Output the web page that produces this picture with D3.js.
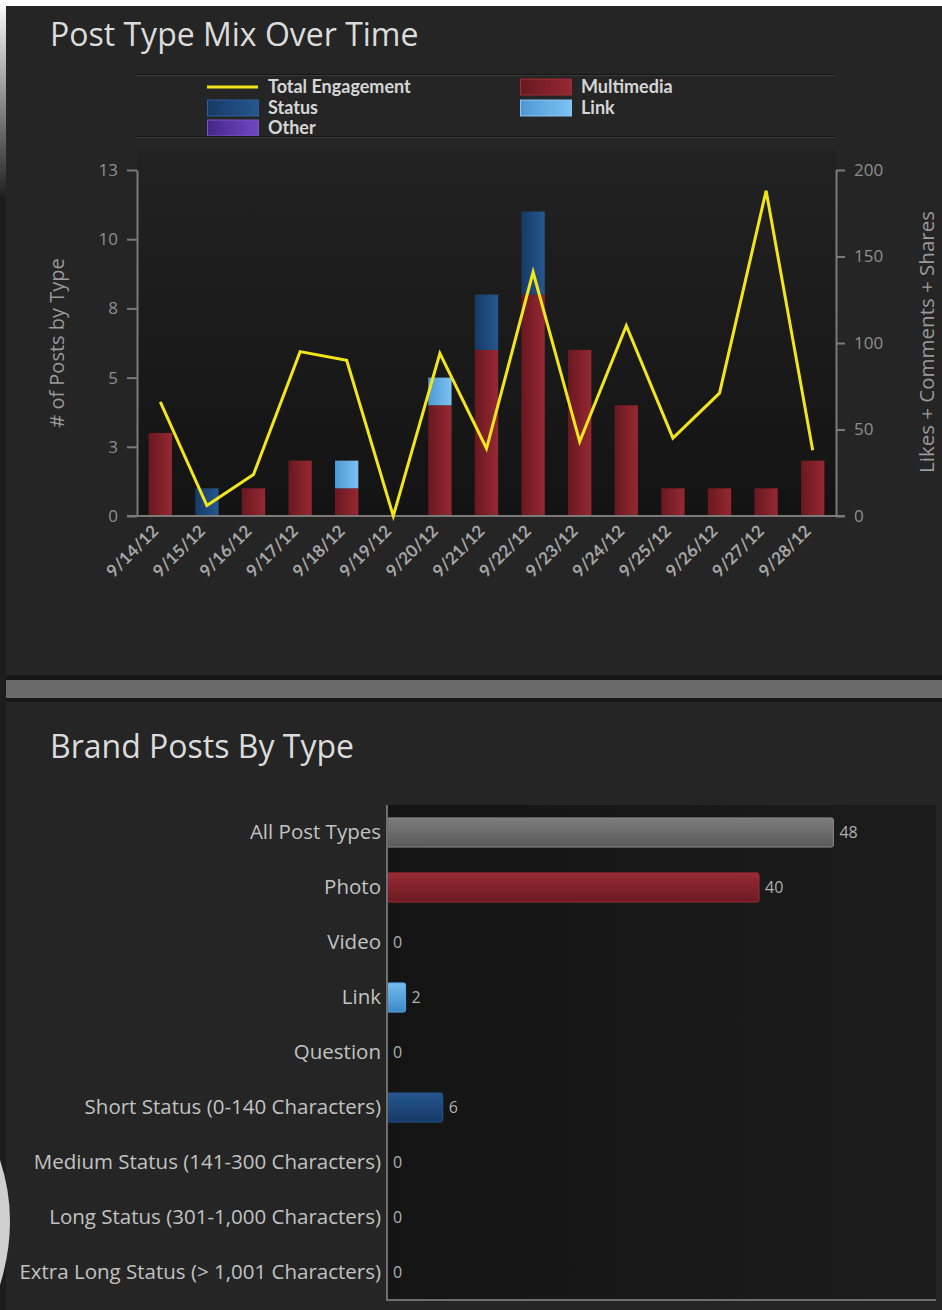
<!DOCTYPE html>
<html>
<head>
<meta charset="utf-8">
<script src="https://cdn.jsdelivr.net/npm/d3@7/dist/d3.min.js"></script>
<style>
  html, body { margin: 0; padding: 0; background: #ffffff; }
  svg { display: block; }
</style>
</head>
<body>
<svg id="chart" width="942" height="1310"></svg>
<script>
// ---- Post type mix over time ----
const dates = ["9/14/12","9/15/12","9/16/12","9/17/12","9/18/12","9/19/12","9/20/12","9/21/12","9/22/12","9/23/12","9/24/12","9/25/12","9/26/12","9/27/12","9/28/12"];
const multimediaPosts = [3,0,1,2,1,0,4,6,8,6,4,1,1,1,2];
const statusPosts     = [0,1,0,0,0,0,0,2,3,0,0,0,0,0,0];
const linkPosts       = [0,0,0,0,1,0,1,0,0,0,0,0,0,0,0];
const otherPosts      = [0,0,0,0,0,0,0,0,0,0,0,0,0,0,0];
const totalEngagement = [66,6,24,95,90,0,94,39,141,43,110,45,71,188,38];
const postTicks = [0, 2.5, 5, 7.5, 10, 12.5];
const engagementTicks = [0, 50, 100, 150, 200];

// ---- Brand posts by type ----
const postTypes = ["All Post Types","Photo","Video","Link","Question","Short Status (0-140 Characters)","Medium Status (141-300 Characters)","Long Status (301-1,000 Characters)","Extra Long Status (> 1,001 Characters)"];
const postTypeCounts = [48,40,0,2,0,6,0,0,0];

const svg = d3.select("#chart");
const defs = svg.append("defs");

function hGrad(id, c0, c1) {
  const g = defs.append("linearGradient").attr("id", id).attr("x1", 0).attr("x2", 1).attr("y1", 0).attr("y2", 0);
  g.append("stop").attr("offset", "0%").attr("stop-color", c0);
  g.append("stop").attr("offset", "100%").attr("stop-color", c1);
}
function vGrad(id, c0, c1) {
  const g = defs.append("linearGradient").attr("id", id).attr("x1", 0).attr("x2", 0).attr("y1", 0).attr("y2", 1);
  g.append("stop").attr("offset", "0%").attr("stop-color", c0);
  g.append("stop").attr("offset", "100%").attr("stop-color", c1);
}
hGrad("gMulti", "#6a1820", "#962832");
hGrad("gStatus", "#173a66", "#26578f");
hGrad("gLink", "#4f98d4", "#7cc2f2");
hGrad("gOther", "#45288a", "#6f47c0");
vGrad("gPlotTop", "#222222", "#131313");
hGrad("gPlotBottom", "#141414", "#1c1c1c");
vGrad("gAll", "#7c7c7c", "#5a5a5a");
vGrad("gPhoto", "#982a34", "#6c1a22");
vGrad("gLinkH", "#72bcf0", "#3f88c6");
vGrad("gStatusH", "#26568e", "#163a66");
vGrad("gEdge", "#ffffff", "#1c1c1c");

const seriesColor = { Multimedia: "url(#gMulti)", Status: "url(#gStatus)", Link: "url(#gLink)", Other: "url(#gOther)" };
const seriesEdge = { Multimedia: "#a02c36", Status: "#2c5f98", Link: "#86c8f4", Other: "#7a52c8" };

const labelFont = "'Open Sans', sans-serif";
const legendFont = "Lato, sans-serif";

// page background and panel
svg.append("rect").attr("x", 0).attr("y", 0).attr("width", 942).attr("height", 1310).attr("fill", "#1d1d1d");
svg.append("rect").attr("x", 0).attr("y", 0).attr("width", 942).attr("height", 6).attr("fill", "#ffffff");
svg.append("rect").attr("x", 0).attr("y", 0).attr("width", 6).attr("height", 200).attr("fill", "url(#gEdge)");
svg.append("rect").attr("x", 6).attr("y", 6).attr("width", 936).attr("height", 1304).attr("fill", "#252525");
svg.append("path").attr("d", "M0,1160 Q20,1220 0,1285 Z").attr("fill", "#cfcfcf");

// ===================== Top chart =====================
const x = d3.scaleBand().domain(dates).range([137, 836]).paddingInner(0.5).paddingOuter(0.25);
const yPosts = d3.scaleLinear().domain([0, 12.5]).range([516, 170]);
const yEng = d3.scaleLinear().domain([0, 200]).range([516, 170]);

svg.append("text").attr("x", 50).attr("y", 46).attr("fill", "#dcdcdc")
  .style("font-family", labelFont).style("font-size", "32px")
  .text("Post Type Mix Over Time");

// plot background
svg.append("rect").attr("x", 137).attr("y", 150).attr("width", 699).attr("height", 366).attr("fill", "url(#gPlotTop)");

// legend frame
[[74, "#141414"], [75, "#3a3a3a"]].forEach(([yy, c]) => {
  svg.append("line").attr("x1", 137).attr("x2", 835).attr("y1", yy + 0.5).attr("y2", yy + 0.5).attr("stroke", c).attr("stroke-width", 1);
});

const legendItems = [
  { name: "Total Engagement", kind: "line", col: 0, row: 0 },
  { name: "Multimedia", kind: "box", col: 1, row: 0 },
  { name: "Status", kind: "box", col: 0, row: 1 },
  { name: "Link", kind: "box", col: 1, row: 1 },
  { name: "Other", kind: "box", col: 0, row: 2 }
];
const legendColX = [207, 520];
const legendRowY = [87, 108, 128];
const legend = svg.append("g");
legendItems.forEach(it => {
  const lx = legendColX[it.col], ly = legendRowY[it.row];
  if (it.kind === "line") {
    legend.append("line").attr("x1", lx).attr("x2", lx + 51).attr("y1", ly).attr("y2", ly)
      .attr("stroke", "#f0e51c").attr("stroke-width", 3);
  } else {
    legend.append("rect").attr("x", lx + 0.5).attr("y", ly - 8).attr("width", 51).attr("height", 16)
      .attr("fill", seriesColor[it.name]).attr("stroke", seriesEdge[it.name]).attr("stroke-width", 1);
  }
  legend.append("text").attr("x", lx + 61).attr("y", ly).attr("dy", "0.35em")
    .attr("fill", "#d6d6d6").style("font-family", legendFont).style("font-weight", "700")
    .style("font-size", "18px").text(it.name);
});
// bottom legend rule drawn over the "Other" swatch
svg.append("line").attr("x1", 137).attr("x2", 835).attr("y1", 136.5).attr("y2", 136.5).attr("stroke", "#141414");
svg.append("line").attr("x1", 137).attr("x2", 835).attr("y1", 137.5).attr("y2", 137.5).attr("stroke", "#3a3a3a");

// stacked bars
const seriesKeys = ["Multimedia", "Status", "Link", "Other"];
const rows = dates.map((d, i) => ({ date: d, Multimedia: multimediaPosts[i], Status: statusPosts[i], Link: linkPosts[i], Other: otherPosts[i] }));
const stacked = d3.stack().keys(seriesKeys)(rows);
const barsG = svg.append("g");
stacked.forEach(layer => {
  barsG.selectAll(null).data(layer.filter(d => d[1] > d[0])).enter().append("rect")
    .attr("x", d => x(d.data.date))
    .attr("width", x.bandwidth())
    .attr("y", d => yPosts(d[1]))
    .attr("height", d => yPosts(d[0]) - yPosts(d[1]))
    .attr("fill", seriesColor[layer.key]);
});

// axes
const axisColor = "#7a7a7a";
const tickColor = "#8f8f8f";
const leftAxis = svg.append("g").attr("transform", "translate(137,0)")
  .call(d3.axisLeft(yPosts).tickValues(postTicks).tickFormat(d => Math.round(d)).tickSize(10).tickSizeOuter(0).tickPadding(9));
const rightAxis = svg.append("g").attr("transform", "translate(836,0)")
  .call(d3.axisRight(yEng).tickValues(engagementTicks).tickSize(9).tickSizeOuter(0).tickPadding(9));
[leftAxis, rightAxis].forEach(a => {
  a.select(".domain").attr("stroke", axisColor).attr("stroke-width", 2);
  a.selectAll(".tick line").attr("stroke", axisColor).attr("stroke-width", 2);
  a.selectAll(".tick text").attr("fill", tickColor).style("font-family", labelFont).style("font-size", "17px");
});

const xAxis = svg.append("g").attr("transform", "translate(0,516)")
  .call(d3.axisBottom(x).tickSize(0).tickPadding(0));
xAxis.select(".domain").remove();
xAxis.append("line").attr("x1", 127).attr("x2", 845).attr("y1", 0).attr("y2", 0).attr("stroke", axisColor).attr("stroke-width", 2);
xAxis.selectAll(".tick text")
  .attr("text-anchor", "end")
  .attr("transform", "translate(-5,12) rotate(-45)")
  .attr("dy", "0.35em").attr("y", 0).attr("x", 0)
  .attr("fill", "#a6a6a6").style("font-family", legendFont).style("font-weight", "700").style("font-size", "17px");

// axis titles
svg.append("text").attr("transform", "translate(57,343) rotate(-90)").attr("text-anchor", "middle").attr("dy", "0.35em")
  .attr("fill", "#9a9a9a").style("font-family", labelFont).style("font-size", "20px").text("# of Posts by Type");
svg.append("text").attr("transform", "translate(927,342) rotate(-90)").attr("text-anchor", "middle").attr("dy", "0.35em")
  .attr("fill", "#9a9a9a").style("font-family", labelFont).style("font-size", "20.5px").text("Likes + Comments + Shares");

// engagement line
const line = d3.line().x((d, i) => x(dates[i]) + x.bandwidth() / 2).y(d => yEng(d));
svg.append("path").datum(totalEngagement).attr("d", line).attr("fill", "none")
  .attr("stroke", "#f2e61a").attr("stroke-width", 3).attr("stroke-linejoin", "miter");

// separator band
svg.append("rect").attr("x", 6).attr("y", 675).attr("width", 936).attr("height", 5).attr("fill", "#171717");
svg.append("rect").attr("x", 6).attr("y", 680).attr("width", 936).attr("height", 18).attr("fill", "#6a6a6a");
svg.append("rect").attr("x", 6).attr("y", 698).attr("width", 936).attr("height", 4).attr("fill", "#181818");

// ===================== Bottom chart =====================
svg.append("text").attr("x", 50).attr("y", 758).attr("fill", "#dcdcdc")
  .style("font-family", labelFont).style("font-size", "32px")
  .text("Brand Posts By Type");

const yCat = d3.scaleBand().domain(postTypes).range([805, 1300]).paddingInner(0.47).paddingOuter(0.235);
const xCount = d3.scaleLinear().domain([0, 60]).range([387, 945]);

svg.append("rect").attr("x", 387).attr("y", 805).attr("width", 549).attr("height", 495).attr("fill", "url(#gPlotBottom)");

const catFill = {
  "All Post Types": ["url(#gAll)", "#8a8a8a"],
  "Photo": ["url(#gPhoto)", "#a02c36"],
  "Video": ["url(#gPhoto)", "#a02c36"],
  "Link": ["url(#gLinkH)", "#5aa6e2"],
  "Question": ["url(#gLinkH)", "#5aa6e2"],
  "Short Status (0-140 Characters)": ["url(#gStatusH)", "#24548a"],
  "Medium Status (141-300 Characters)": ["url(#gStatusH)", "#24548a"],
  "Long Status (301-1,000 Characters)": ["url(#gStatusH)", "#24548a"],
  "Extra Long Status (> 1,001 Characters)": ["url(#gStatusH)", "#24548a"]
};
const catData = postTypes.map((t, i) => ({ type: t, count: postTypeCounts[i] }));

svg.append("g").selectAll("rect").data(catData.filter(d => d.count > 0)).enter().append("rect")
  .attr("x", xCount(0))
  .attr("y", d => yCat(d.type))
  .attr("width", d => xCount(d.count) - xCount(0))
  .attr("height", yCat.bandwidth())
  .attr("rx", 2)
  .attr("fill", d => catFill[d.type][0])
  .attr("stroke", d => catFill[d.type][1]).attr("stroke-width", 1);

svg.append("g").selectAll("text").data(catData).enter().append("text")
  .attr("x", d => xCount(d.count) + 6)
  .attr("y", d => yCat(d.type) + yCat.bandwidth() / 2)
  .attr("dy", "0.35em")
  .attr("fill", "#b0b0b0").style("font-family", labelFont).style("font-size", "16px")
  .text(d => d.count);

const catAxis = svg.append("g").attr("transform", "translate(387,0)")
  .call(d3.axisLeft(yCat).tickSize(0).tickPadding(6));
catAxis.select(".domain").remove();
catAxis.selectAll(".tick text").attr("fill", "#c2c2c2").style("font-family", labelFont).style("font-size", "20.5px");

svg.append("line").attr("x1", 387).attr("x2", 387).attr("y1", 805).attr("y2", 1301).attr("stroke", "#6e6e6e").attr("stroke-width", 2);
svg.append("line").attr("x1", 386).attr("x2", 936).attr("y1", 1300).attr("y2", 1300).attr("stroke", "#6e6e6e").attr("stroke-width", 2);
</script>
</body>
</html>
